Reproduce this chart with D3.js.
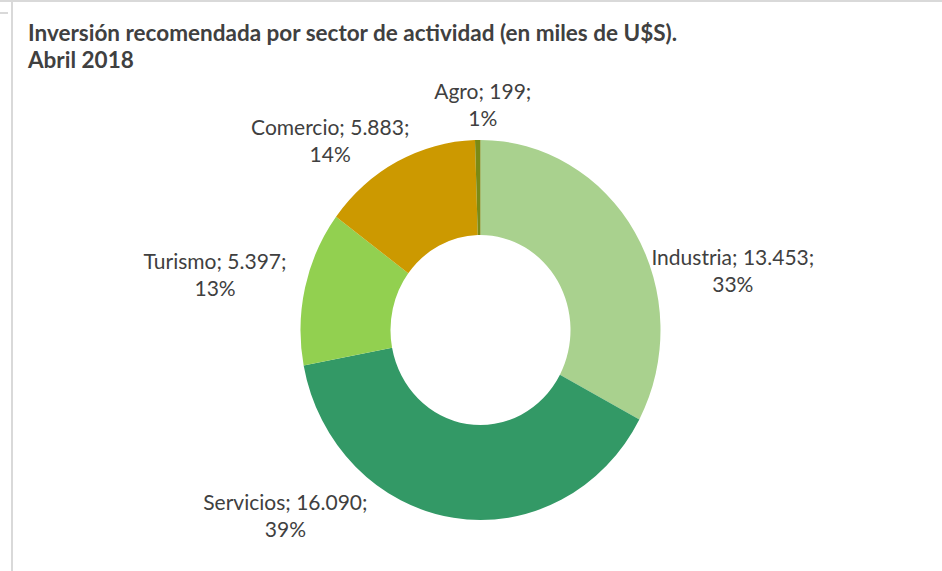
<!DOCTYPE html>
<html>
<head>
<meta charset="utf-8">
<script src="https://cdn.jsdelivr.net/npm/d3@7"></script>
<style>
  html, body { margin: 0; padding: 0; background: #fff; }
  svg { display: block; }
  text { font-family: Lato, "Open Sans", sans-serif; fill: #404040; }
</style>
</head>
<body>
<svg width="942" height="571"></svg>
<script>
// data
const sectors = ["Industria", "Servicios", "Turismo", "Comercio", "Agro"]
const values = [13453, 16090, 5397, 5883, 199]
const valueLabels = ["13.453", "16.090", "5.397", "5.883", "199"]
const pctLabels = ["33%", "39%", "13%", "14%", "1%"]
const colors = ["#a9d18e", "#339966", "#92d050", "#cc9900", "#7b8a14"]

// label nudges from the outer edge at mid angle (layout only)
const labelNudge = [[98, 39], [-168, -2], [-90, -12], [-67, -21], [5, -35]]

const svg = d3.select("svg")
const width = 942, height = 571

// frame lines
svg.append("rect").attr("x", 0).attr("y", 0).attr("width", width).attr("height", 2).attr("fill", "#d9d9d9")
svg.append("rect").attr("x", 11).attr("y", 2).attr("width", 2).attr("height", height).attr("fill", "#d9d9d9")
svg.append("rect").attr("x", 0).attr("y", 12).attr("width", 8).attr("height", 2).attr("fill", "#d9d9d9")

// title
const title = svg.append("text")
	.attr("x", 28)
	.attr("y", 41)
	.style("font-size", "22.5px")
	.style("font-weight", "bold")
title.append("tspan").attr("x", 28).text("Inversión recomendada por sector de actividad (en miles de U$S).")
title.append("tspan").attr("x", 28).attr("dy", 27).text("Abril 2018")

const cx = 480.5, cy = 330
const rx = 180, ry = 190
const outer = rx, inner = 90

const pie = d3.pie().sort(null).value(d => d)
const arcs = pie(values)
const arc = d3.arc().innerRadius(inner).outerRadius(outer)

const g = svg.append("g")
	.attr("transform", `translate(${cx},${cy}) scale(1,${ry / rx})`)

g.selectAll("path")
	.data(arcs)
	.enter()
	.append("path")
	.attr("d", arc)
	.attr("fill", (d, i) => colors[i])

// labels
const labels = svg.selectAll(".label")
	.data(arcs)
	.enter()
	.append("text")
	.attr("class", "label")
	.attr("text-anchor", "middle")
	.style("font-size", "21px")
	.attr("transform", (d, i) => {
		const a = (d.startAngle + d.endAngle) / 2
		const x = cx + rx * Math.sin(a) + labelNudge[i][0]
		const y = cy - ry * Math.cos(a) + labelNudge[i][1]
		return `translate(${x},${y})`
	})
labels.append("tspan")
	.attr("x", 0)
	.attr("y", -6)
	.text((d, i) => `${sectors[i]}; ${valueLabels[i]};`)
labels.append("tspan")
	.attr("x", 0)
	.attr("y", 21)
	.text((d, i) => pctLabels[i])
</script>
</body>
</html>
